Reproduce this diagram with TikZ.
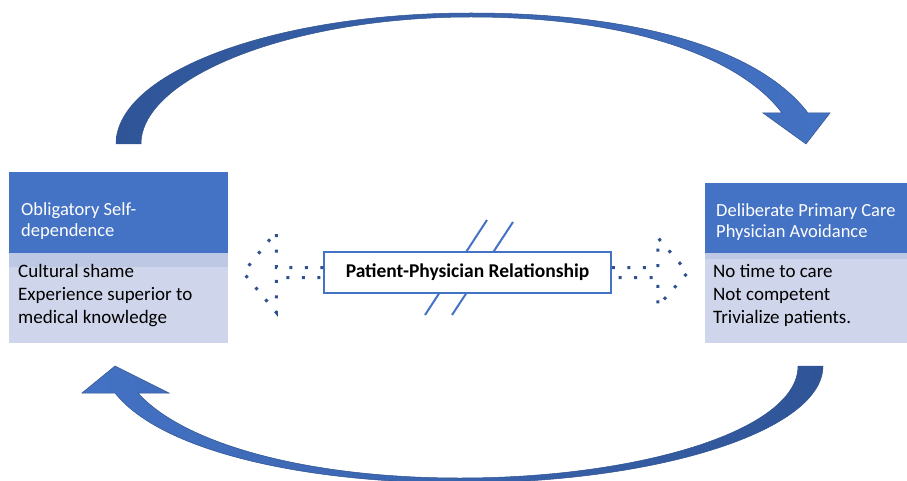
\documentclass[tikz,border=0pt]{standalone}
\usepackage{fontspec}
\setmainfont{Carlito}
\usepackage{tikz}
\usetikzlibrary{arrows.meta, positioning, calc}
\definecolor{headblue}{RGB}{68,114,196}
\definecolor{bodyblue}{RGB}{207,213,234}
\definecolor{bandblue}{RGB}{189,200,228}
\definecolor{darkblue}{RGB}{47,85,151}
\definecolor{dotblue}{RGB}{47,82,143}

\begin{document}
\begin{tikzpicture}[
  x=1pt, y=-1pt, every node/.style={align=left},
  headbox/.style={fill=headblue, inner sep=0pt, anchor=north west},
  bodybox/.style={fill=bodyblue, inner sep=0pt, anchor=north west},
  band/.style={fill=bandblue, inner sep=0pt, anchor=north west},
  headtext/.style={text=white, inner sep=0pt, anchor=west, font=\fontsize{18.5}{21.5}\selectfont},
  bodytext/.style={text=black, inner sep=0pt, anchor=west, font=\fontsize{19}{23}\selectfont},
  relbox/.style={draw=headblue, line width=1.5pt, fill=white, minimum width=287pt, minimum height=41pt, font=\bfseries\fontsize{19.5}{22}\selectfont},
  dotarrow/.style={draw=dotblue, line width=3pt, dash pattern=on 3pt off 12.5pt},
  bigarrow/.style={draw=dotblue, line width=0.5pt}
]
\clip (0,0) rectangle (907,481);

\node[bodybox, minimum width=219pt, minimum height=90pt] (lbody) at (9,253) {};
\node[band, minimum width=219pt, minimum height=14pt] (lband) at (9,253) {};
\node[headbox, minimum width=219pt, minimum height=81pt] (lhead) at (9,172) {};
\node[headtext] (ltitle) at (21,221) {Obligatory Self-\\dependence};
\node[bodytext] (litems) at (18,296) {Cultural shame\\Experience superior to\\medical knowledge};

\node[bodybox, minimum width=202pt, minimum height=90pt] (rbody) at (705,253) {};
\node[band, minimum width=202pt, minimum height=6pt] (rband) at (705,253) {};
\node[headbox, minimum width=202pt, minimum height=70pt] (rhead) at (705,183) {};
\node[headtext] (rtitle) at (716,222) {Deliberate Primary Care\\Physician Avoidance};
\node[bodytext] (ritems) at (713,295) {No time to care\\Not competent\\Trivialize patients.};

\draw[headblue, line width=2pt] (487,220) -- (425,315);
\draw[headblue, line width=2pt] (513,222) -- (452,315);
\node[relbox] (rel) at (467.5,272.5) {Patient-Physician Relationship};

\draw[dotarrow] ([yshift=5pt]rel.west) -- ++(-47,0) -- ++(0,-36) -- ++(-33,41) -- ++(33,40) -- ++(0,-35) -- ([yshift=-5pt]rel.west);
\draw[dotarrow] ([yshift=5pt]rel.east) -- ++(46,0) -- ++(0,-30) -- ++(30,35) -- ++(-30,34) -- ++(0,-29) -- ([yshift=-5pt]rel.east);

\shade[bigarrow, left color=darkblue, right color=headblue]
  (116,144) .. controls (116,72) and (275,13) .. (471,13)
  .. controls (640,13) and (760,50) .. (808,113)
  -- (830,113) -- (806,144) -- (763,113) -- (782,113)
  .. controls (740,57) and (630,17) .. (471,17)
  .. controls (290,17) and (141,78) .. (141,144) -- cycle;
\shade[bigarrow, left color=headblue, right color=darkblue]
  (823,366) .. controls (823,430) and (660,483) .. (460,483)
  .. controls (300,483) and (160,450) .. (115,393)
  -- (82,393) -- (115,366) -- (169,393) -- (138,393)
  .. controls (185,445) and (310,478) .. (460,478)
  .. controls (640,478) and (798,430) .. (798,366) -- cycle;
\end{tikzpicture}
\end{document}
